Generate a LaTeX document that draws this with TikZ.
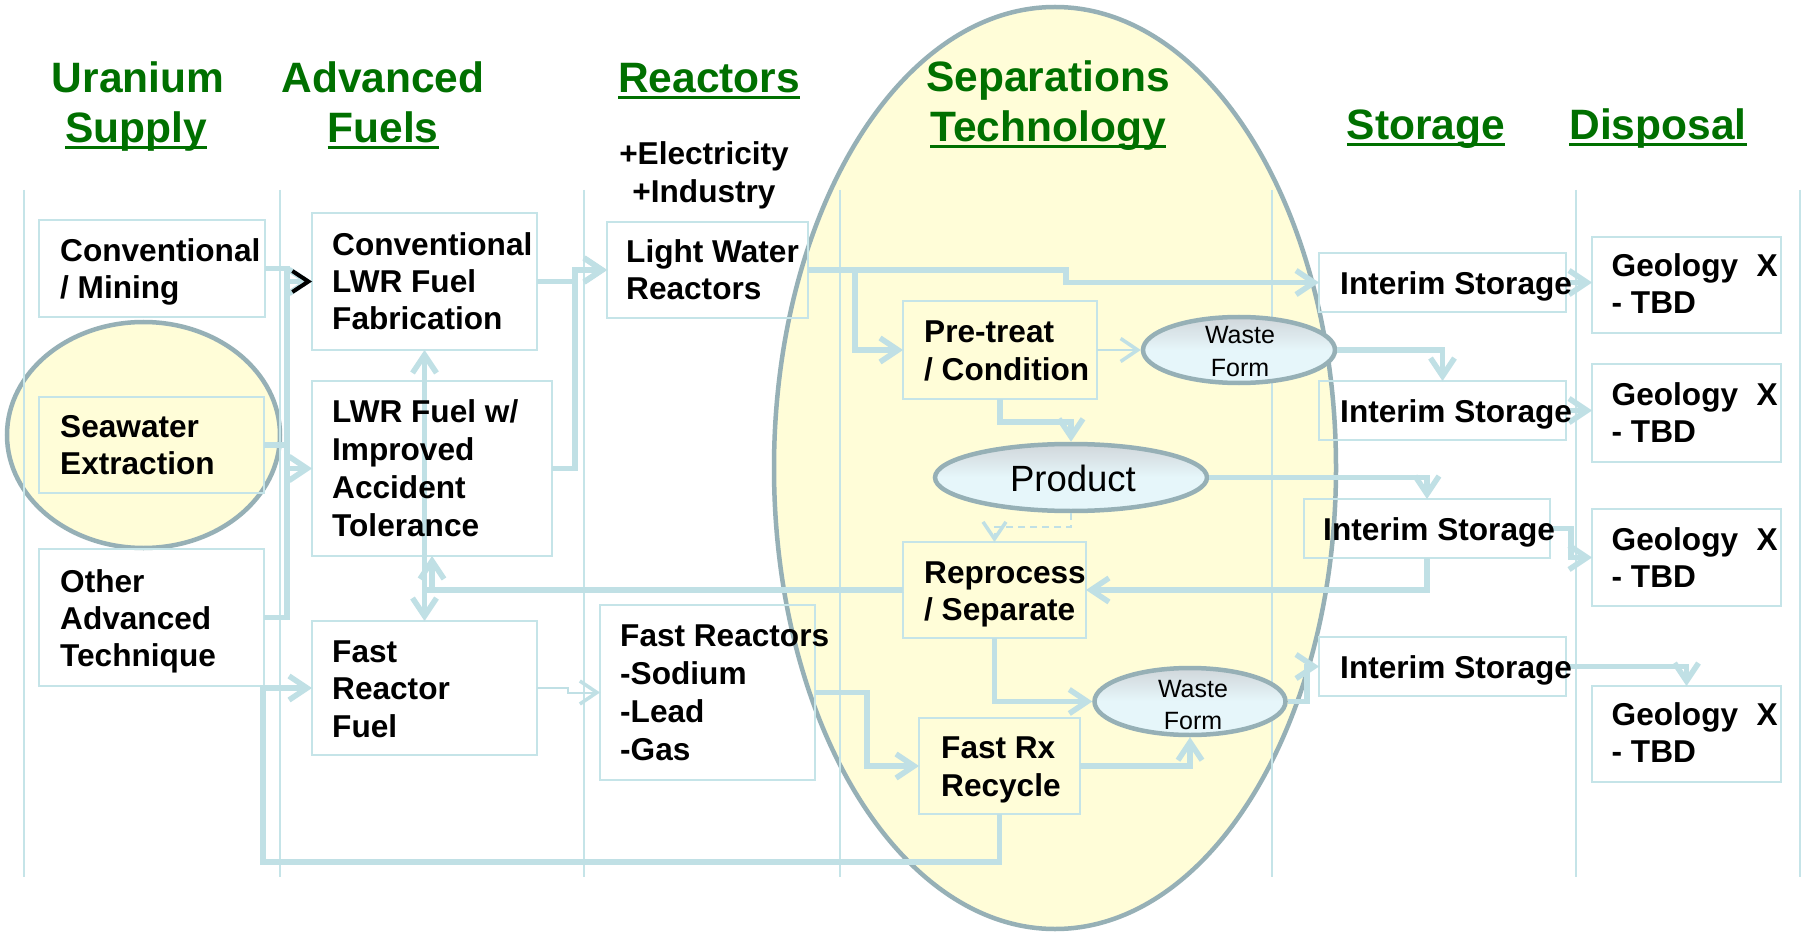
\documentclass[tikz,border=0pt]{standalone}
\usepackage{fontspec}
\setmainfont{Liberation Sans}
\usetikzlibrary{arrows.meta,fit,shapes.geometric}
\definecolor{connc}{RGB}{192,224,229}
\definecolor{boxc}{RGB}{197,228,232}
\definecolor{elst}{RGB}{150,176,182}
\definecolor{ylw}{RGB}{255,253,216}
\definecolor{ttl}{RGB}{0,112,0}
\definecolor{eltop}{RGB}{208,214,218}
\definecolor{elbot}{RGB}{230,246,250}
\newsavebox\ulbox
\newcommand\ulx[1]{\sbox\ulbox{#1}\rlap{\rule[-6.5pt]{\wd\ulbox}{3.5pt}}\usebox\ulbox}
\begin{document}
\begin{tikzpicture}[x=1pt,y=-1pt,
 box/.style={draw=boxc,line width=2pt,inner sep=0pt,outer sep=0pt},
 colline/.style={draw=boxc,line width=1.5pt},
 conn/.style={draw=connc,line width=5.5pt},
 arr/.style={conn,-{Straight Barb[length=18pt,width=24pt]}},
 thinarr/.style={draw=connc,line width=2pt,-{Straight Barb[length=17pt,width=23pt,line width=3.5pt]}},
 dasharr/.style={thinarr,dash pattern=on 7pt off 5pt},
 blkarr/.style={conn,-{Straight Barb[length=16pt,width=21pt,line width=4pt,color=black]}},
 body/.style={font=\bfseries\fontsize{31.6}{37}\selectfont,align=left,inner sep=0pt,anchor=base west},
 title/.style={font=\bfseries\fontsize{42.5}{44}\selectfont,text=ttl,inner sep=0pt,anchor=base},
 bigel/.style={ellipse,draw=elst,line width=4.5pt,fill=ylw,inner sep=0pt},
 smel/.style={ellipse,draw=elst,line width=4.5pt,top color=eltop,bottom color=elbot,middle color=elbot,inner sep=0pt},
 eltext/.style={font=\fontsize{25}{33}\selectfont,align=center,inner sep=0pt,anchor=base},
]
\fill[white] (0,0) rectangle (1807,933);
\useasboundingbox (0,0) rectangle (1807,933);

% background zones
\node[bigel,minimum width=562pt,minimum height=922pt] (sepzone) at (1055,468) {};
\node[bigel,minimum width=273pt,minimum height=226pt] (seazone) at (143.5,435) {};

% column lines
\foreach \cx in {24,280,584,840,1272,1576,1800}
  \draw[colline] (\cx,190) -- (\cx,877);

% boxes
\node[box,fit={(39,220) (265,317)}] (mining) {};
\node[box,fit={(39,397) (264,493)}] (seaw) {};
\node[box,fit={(39,549) (264,686)}] (other) {};
\node[box,fit={(312,213) (537,350)}] (convfab) {};
\node[box,fit={(312,381) (552,556)}] (lwrimp) {};
\node[box,fit={(312,621) (537,755)}] (frf) {};
\node[box,fit={(607,222) (808,318)}] (lwr) {};
\node[box,fit={(600,605) (815,780)}] (fr) {};
\node[box,fit={(903,301) (1097,399)}] (pretreat) {};
\node[box,fit={(903,542) (1086,638)}] (reproc) {};
\node[box,fit={(919,718) (1080,814)}] (fastrx) {};
\node[box,fit={(1319,253) (1566,312)}] (stor1) {};
\node[box,fit={(1319,381) (1566,440)}] (stor2) {};
\node[box,fit={(1304,499) (1550,558)}] (stor3) {};
\node[box,fit={(1319,637) (1566,696)}] (stor4) {};
\node[box,fit={(1592,237) (1781,333)}] (geo1) {};
\node[box,fit={(1592,364) (1781,462)}] (geo2) {};
\node[box,fit={(1592,509) (1781,606)}] (geo3) {};
\node[box,fit={(1592,686) (1781,782)}] (geo4) {};

% small ellipses
\node[smel,minimum width=272pt,minimum height=67pt] (product) at (1071,477.5) {};
\node[smel,minimum width=192pt,minimum height=66pt] (waste1) at (1239,350) {};
\node[smel,minimum width=191pt,minimum height=67pt] (waste2) at (1190,701.5) {};

% connectors
\coordinate (loopc) at (263,862);
\draw[arr] (other.east) -- ++(23,0) |- (convfab.west);
\draw[arr] (seaw.east) -- ++(23,0) |- (lwrimp.west);
\draw[blkarr] (mining.east) -- ++(22,0) |- (convfab.west);
\draw[arr] (convfab.east) -- ++(38,0) |- (lwr.west);
\draw[arr] (lwrimp.east) -- ++(23,0) |- (lwr.west);
\draw[arr] (lwr.east) -- ++(258,0) |- (stor1.west);
\draw[arr] (lwr.east) -- ++(47,0) |- (pretreat.west);
\draw[thinarr] (pretreat.east) -- (waste1.west);
\draw[arr] (pretreat.south) -- ++(0,23) -| (product.north);
\draw[dasharr] (product.south) -- ++(0,14) -| (reproc.north);
\draw[arr] (waste1.east) -| (stor2.north);
\draw[arr] (product.east) -| (stor3.north);
\draw[arr] (stor3.south) |- (reproc.east);
\draw[arr] (reproc.west) -| (lwrimp.south);
\draw[arr] (reproc.west) -| (frf.north);
\draw[arr] (reproc.west) -| (convfab.south);
\draw[arr] (reproc.south) |- (waste2.west);
\draw[arr] (fastrx.east) -| (waste2.south);
\draw[arr] (waste2.east) -- ++(19,0) |- (stor4.west);
\draw[arr] (fr.east) -- ++(52,0) |- (fastrx.west);
\draw[thinarr] (frf.east) -- ++(31,0) |- (fr.west);
\draw[arr] (fastrx.south) |- (loopc) |- (frf.west);
\draw[arr] (stor1.east) -- (stor1.east -| geo1.west);
\draw[arr] (stor2.east) -- (stor2.east -| geo2.west);
\draw[arr] (stor3.east) -- ++(21,0) |- (geo3.west);
\draw[arr] (stor4.east) -| (geo4.north);

% titles
\node[title] (t1a) at (138,93) {Uranium};
\node[title] (t1b) at (136,143) {\ulx{Supply}};
\node[title] (t2a) at (383,93) {Advanced};
\node[title] (t2b) at (383,143) {\ulx{Fuels}};
\node[title] (t3) at (709,93) {\ulx{Reactors}};
\node[title] (t4a) at (1048,92) {Separations};
\node[title] (t4b) at (1048,142) {\ulx{Technology}};
\node[title] (t5) at (1426,140) {\ulx{Storage}};
\node[title] (t6) at (1658,140) {\ulx{Disposal}};
\node[body,font=\bfseries\fontsize{31.6}{38}\selectfont,align=center,anchor=base] (elec) at (704,203) {+Electricity\\+Industry};

% box texts (anchored at the baseline of the last line)
\node[body] (miningt) at (60,299) {Conventional\\/ Mining};
\node[body] (seawt) at (60,474) {Seawater\\Extraction};
\node[body] (othert) at (60,666) {Other\\Advanced\\Technique};
\node[body] (convfabt) at (332,330) {Conventional\\LWR Fuel\\Fabrication};
\node[body,font=\bfseries\fontsize{31.6}{38}\selectfont] (lwrimpt) at (332,536) {LWR Fuel w/\\Improved\\Accident\\Tolerance};
\node[body,font=\bfseries\fontsize{31.6}{37.5}\selectfont] (frft) at (332,737) {Fast\\Reactor\\Fuel};
\node[body] (lwrt) at (626,300) {Light Water\\Reactors};
\node[body,font=\bfseries\fontsize{31.6}{37.7}\selectfont] (frt) at (620,760) {Fast Reactors\\-Sodium\\-Lead\\-Gas};
\node[body,font=\bfseries\fontsize{31.6}{38}\selectfont] (pretreatt) at (924,380) {Pre-treat\\/ Condition};
\node[body] (reproct) at (924,620) {Reprocess\\/ Separate};
\node[body,font=\bfseries\fontsize{31.6}{38}\selectfont] (fastrxt) at (941,796) {Fast Rx\\Recycle};
\node[body] (stor1t) at (1340,295) {Interim Storage};
\node[body] (stor2t) at (1340,422) {Interim Storage};
\node[body] (stor3t) at (1323,540) {Interim Storage};
\node[body] (stor4t) at (1340,678) {Interim Storage};
\foreach \g/\b in {1/277,2/405,3/550,4/725}{
  \node[body] (geo\g t) at (1611.5,\b+37) {Geology\\- TBD};
  \node[body,anchor=base east] (geo\g x) at (1778,\b) {X};
}
\node[font=\fontsize{36.5}{40}\selectfont,inner sep=0pt,anchor=base] (prodt) at (1073,491.5) {Product};
\node[eltext] (waste1t) at (1240,376) {Waste\\Form};
\node[eltext,font=\fontsize{25}{32}\selectfont] (waste2t) at (1193,729) {Waste\\Form};
\end{tikzpicture}
\end{document}
